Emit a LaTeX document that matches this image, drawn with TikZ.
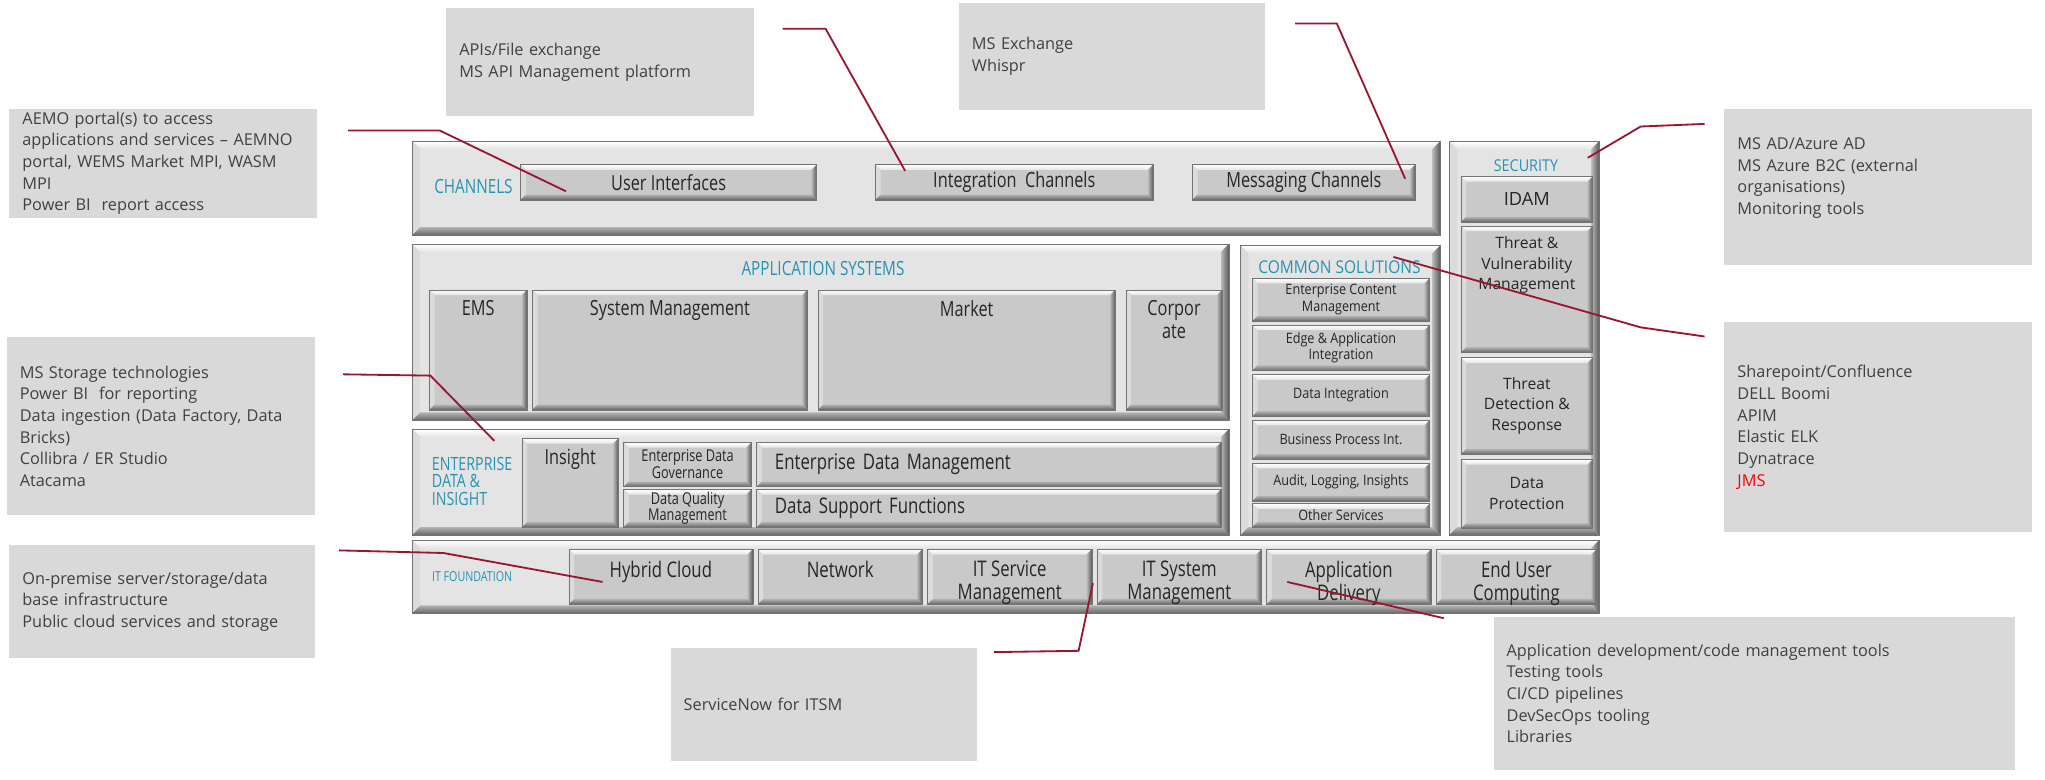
\documentclass[tikz,border=0pt]{standalone}
\usepackage{fontspec}
\setmainfont{Open Sans}
\newfontfamily\condfont[FakeStretch=0.78]{Open Sans}
\newfontfamily\semifont[FakeStretch=0.88]{Open Sans}
\usetikzlibrary{positioning}

\definecolor{notefill}{RGB}{217,217,217}
\definecolor{notetext}{RGB}{64,64,64}
\definecolor{panelfill}{RGB}{228,228,228}
\definecolor{btnfill}{RGB}{201,201,201}
\definecolor{layerblue}{RGB}{38,147,180}
\definecolor{linkred}{RGB}{152,22,48}

\tikzset{
  bevel/.style={path picture={
      \coordinate (bnw) at (path picture bounding box.north west);
      \coordinate (bse) at (path picture bounding box.south east);
      \coordinate (bne) at (bse |- bnw);
      \coordinate (bsw) at (bnw |- bse);
      \shade[top color=white, bottom color=white!80!gray]
        (bnw) -- (bne) -- ([shift={(-#1,-#1)}]bne) -- ([shift={(#1,-#1)}]bnw) -- cycle;
      \fill[white!72!gray]
        (bnw) -- ([shift={(#1,-#1)}]bnw) -- ([shift={(#1,#1)}]bsw) -- (bsw) -- cycle;
      \shade[left color=gray!55, right color=black!65]
        (bne) -- (bse) -- ([shift={(-#1,#1)}]bse) -- ([shift={(-#1,-#1)}]bne) -- cycle;
      \shade[top color=gray!60, bottom color=black!60]
        (bsw) -- ([shift={(#1,#1)}]bsw) -- ([shift={(-#1,#1)}]bse) -- (bse) -- cycle;
  }},
  panel/.style={fill=panelfill, draw=black!55, bevel=6pt, anchor=north west, inner sep=0pt},
  btn/.style={fill=btnfill, draw=black!55, bevel=4pt, anchor=north west, inner sep=0pt,
    align=center, text=black!85, font=\condfont\fontsize{16}{17}\selectfont},
  sec btn/.style={btn, font=\fontsize{12}{16}\selectfont},
  cs btn/.style={btn, font=\semifont\fontsize{11}{12.5}\selectfont},
  top text/.style={anchor=north, align=center, inner sep=0pt, text=black!85, yshift=-8pt,
    font=\condfont\fontsize{16}{18}\selectfont},
  it text/.style={top text, yshift=-1pt, font=\condfont\fontsize{16.5}{17.5}\selectfont},
  layer/.style={text=layerblue, inner sep=0pt, align=left, font=\condfont\fontsize{13.5}{13.5}\selectfont},
  note/.style={fill=notefill, anchor=north west, inner xsep=10pt, inner ysep=0pt, align=left,
    text=notetext, font=\fontsize{12.5}{16.6}\selectfont},
  link/.style={draw=linkred, line width=1.4pt},
}

\begin{document}
\begin{tikzpicture}[x=1pt, y=-1pt]
    \useasboundingbox (0,0) rectangle (1568,598);

    % callouts
    \node[note, text width=216pt, minimum height=84pt] (aemo) at (7,83)
        {AEMO portal(s) to access\\applications and services -- AEMNO\\portal, WEMS Market MPI, WASM\\MPI\\Power BI\ \ report access};
    \node[note, text width=216pt, minimum height=83pt] (apis) at (342,6)
        {APIs/File exchange\\MS API Management platform};
    \node[note, text width=215pt, minimum height=82pt] (msx) at (735,2)
        {MS Exchange\\Whispr};
    \node[note, text width=216pt, minimum height=120pt] (msad) at (1322,83)
        {MS AD/Azure AD\\MS Azure B2C (external\\organisations)\\Monitoring tools\\\mbox{}};
    \node[note, text width=216pt, minimum height=161pt] (shp) at (1322,247)
        {Sharepoint/Confluence\\DELL Boomi\\APIM\\Elastic ELK\\Dynatrace\\\textcolor{red}{JMS}};
    \node[note, text width=216pt, minimum height=137pt] (stor) at (5,258)
        {MS Storage technologies\\Power BI\ \ for reporting\\Data ingestion (Data Factory, Data\\Bricks)\\Collibra / ER Studio\\Atacama};
    \node[note, text width=214pt, minimum height=86pt] (onp) at (7,418)
        {On-premise server/storage/data\\base infrastructure\\Public cloud services and storage};
    \node[note, text width=215pt, minimum height=86pt] (snow) at (514,497)
        {ServiceNow for ITSM};
    \node[note, text width=380pt, minimum height=117pt] (appdev) at (1145,473)
        {Application development/code management tools\\Testing tools\\CI/CD pipelines\\DevSecOps tooling\\Libraries};

    % channels
    \node[panel, minimum width=788pt, minimum height=72pt] (chan) at (316,108) {};
    \node[layer, font=\condfont\fontsize{15}{15}\selectfont] (chanlbl) at (363,143) {CHANNELS};
    \node[btn, minimum width=227pt, minimum height=27pt] (ui) at (399,126) {User Interfaces};
    \node[btn, minimum width=213pt, minimum height=27pt] (ic) at (671,126) {Integration\ \ Channels};
    \node[btn, minimum width=171pt, minimum height=27pt] (mc) at (914,126) {Messaging Channels};

    % security
    \node[panel, minimum width=115pt, minimum height=302pt] (sec) at (1111,108) {};
    \node[layer, font=\semifont\fontsize{12.5}{13}\selectfont] (seclbl) at (1170,127) {SECURITY};
    \node[sec btn, minimum width=101pt, minimum height=35pt, font=\fontsize{14}{16}\selectfont] (idam) at (1120,135) {IDAM};
    \node[sec btn, minimum width=101pt, minimum height=97pt,
        label={[top text, font=\fontsize{12}{16}\selectfont]north:Threat \&\\Vulnerability\\Management}] (tvm) at (1120,173) {};
    \node[sec btn, minimum width=101pt, minimum height=74pt] (tdr) at (1120,274) {Threat\\Detection \&\\Response};
    \node[sec btn, minimum width=101pt, minimum height=53pt] (dp) at (1120,352) {Data\\Protection};

    % application systems
    \node[panel, minimum width=626pt, minimum height=135pt] (apps) at (316,187) {};
    \node[layer, font=\condfont\fontsize{15}{15}\selectfont] (applbl) at (631,206) {APPLICATION SYSTEMS};
    \node[btn, minimum width=75pt, minimum height=92pt, label={[top text]north:EMS}] (ems) at (329,222) {};
    \node[btn, minimum width=211pt, minimum height=92pt, label={[top text]north:System Management}] (sysm) at (408,222) {};
    \node[btn, minimum width=228pt, minimum height=92pt, label={[top text]north:Market}] (mkt) at (627,222) {};
    \node[btn, minimum width=74pt, minimum height=92pt, label={[top text]north:Corpor\\ate}] (corp) at (863,222) {};

    % common solutions
    \node[panel, minimum width=153pt, minimum height=222pt] (comm) at (951,188) {};
    \node[layer, font=\semifont\fontsize{13.5}{14}\selectfont] (cslbl) at (1027,205) {COMMON SOLUTIONS};
    \node[cs btn, minimum width=136pt, minimum height=33pt] (ecm) at (960,213) {Enterprise Content\\Management};
    \node[cs btn, minimum width=136pt, minimum height=35pt] (eai) at (960,249) {Edge \& Application\\Integration};
    \node[cs btn, minimum width=136pt, minimum height=32pt] (din) at (960,287) {Data Integration};
    \node[cs btn, minimum width=136pt, minimum height=30pt] (bpi) at (960,322) {Business Process Int.};
    \node[cs btn, minimum width=136pt, minimum height=29pt] (alg) at (960,355) {Audit, Logging, Insights};
    \node[cs btn, minimum width=136pt, minimum height=18pt] (oth) at (960,386) {Other Services};

    % enterprise data and insight
    \node[panel, minimum width=626pt, minimum height=81pt] (edi) at (316,329) {};
    \node[layer, anchor=west, font=\condfont\fontsize{14}{13.5}\selectfont] (edilbl) at (331,369) {ENTERPRISE\\DATA \&\\INSIGHT};
    \node[btn, minimum width=74pt, minimum height=68pt, label={[top text]north:Insight}] (ins) at (400,336) {};
    \node[btn, minimum width=98pt, minimum height=34pt, font=\condfont\fontsize{12.5}{13}\selectfont] (edg) at (478,339) {Enterprise Data\\Governance};
    \node[btn, minimum width=98pt, minimum height=29pt, font=\condfont\fontsize{12.5}{13}\selectfont] (dqm) at (478,375) {Data Quality\\Management};
    \node[btn, minimum width=356pt, minimum height=34pt, text width=328pt, align=left, font=\condfont\fontsize{16.5}{17}\selectfont] (edm) at (580,339) {Enterprise Data Management};
    \node[btn, minimum width=356pt, minimum height=29pt, text width=328pt, align=left, font=\condfont\fontsize{16.5}{17}\selectfont] (dsf) at (580,375) {Data Support Functions};

    % it foundation
    \node[panel, minimum width=910pt, minimum height=56pt] (itf) at (316,414) {};
    \node[layer, font=\condfont\fontsize{10.5}{12}\selectfont] (itflbl) at (362,442) {IT FOUNDATION};
    \node[btn, minimum width=141pt, minimum height=42pt, label={[it text]north:Hybrid Cloud}] (hyb) at (436,421) {};
    \node[btn, minimum width=126pt, minimum height=42pt, label={[it text]north:Network}] (net) at (581,421) {};
    \node[btn, minimum width=126pt, minimum height=42pt, label={[it text]north:IT Service\\Management}] (itsm) at (711,421) {};
    \node[btn, minimum width=126pt, minimum height=42pt, label={[it text]north:IT System\\Management}] (itsys) at (841,421) {};
    \node[btn, minimum width=126pt, minimum height=42pt, label={[it text]north:Application\\Delivery}] (apd) at (971,421) {};
    \node[btn, minimum width=123pt, minimum height=42pt, label={[it text]north:End User\\Computing}] (euc) at (1101,421) {};

    % connectors from the callouts
    \coordinate (aemoA) at (267,100);   \coordinate (aemoB) at (337,100);
    \coordinate (apisA) at (600,22);    \coordinate (apisB) at (633,22);
    \coordinate (msxA) at (993,18);     \coordinate (msxB) at (1025,18);
    \coordinate (msadA) at (1307,95);   \coordinate (msadB) at (1258,97);
    \coordinate (shpA) at (1307,258);   \coordinate (shpB) at (1258,251);
    \coordinate (storA) at (263,287);   \coordinate (storB) at (330,288);
    \coordinate (onpA) at (260,422);    \coordinate (onpB) at (340,424);
    \coordinate (snowA) at (762,500);   \coordinate (snowB) at (827,499);
    \coordinate (appdevA) at (1107,474);

    \draw[link] (aemoA) -- (aemoB) -- ([xshift=35pt,yshift=-7pt]ui.west);
    \draw[link] (apisA) -- (apisB) -- ([xshift=23pt,yshift=-5pt]ic.north west);
    \draw[link] (msxA) -- (msxB) -- ([xshift=-8pt,yshift=-11pt]mc.north east);
    \draw[link] (msadA) -- (msadB) -- ([xshift=-9pt,yshift=-13pt]sec.north east);
    \draw[link] (shpA) -- (shpB) -- ([xshift=-36pt,yshift=-9pt]comm.north east);
    \draw[link] (storA) -- (storB) -- ([xshift=63pt,yshift=-9pt]edi.north west);
    \draw[link] (onpA) -- (onpB) -- ([xshift=26pt,yshift=-4pt]hyb.west);
    \draw[link] (snowA) -- (snowB) -- ([xshift=-3pt,yshift=-5pt]itsys.west);
    \draw[link] (appdevA) -- ([xshift=16pt,yshift=-4pt]apd.west);
\end{tikzpicture}
\end{document}
